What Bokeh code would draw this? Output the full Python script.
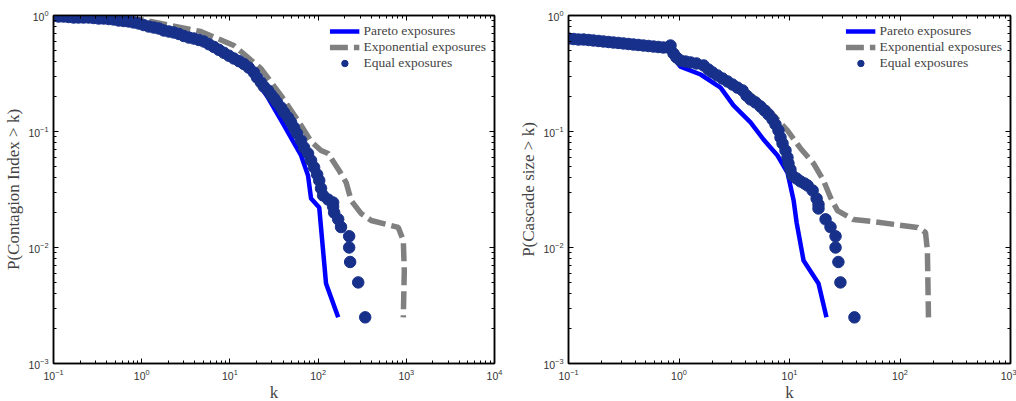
from bokeh.plotting import figure
from bokeh.models import (LogAxis, FixedTicker, Legend, LegendItem, Range1d,
                          CustomJSTickFormatter)
from bokeh.layouts import row
from bokeh.embed import file_html
from bokeh.resources import INLINE

# ---------------- Left panel: Contagion Index ----------------
left_pareto_k = [0.1, 0.203, 0.342, 0.974, 2.14, 4.68, 9.49, 13.3, 17.3, 27.0,
                 41.1, 64.1, 76.9, 83.2, 103, 123, 169]
left_pareto_p = [1.0, 0.98, 0.96, 0.836, 0.728, 0.609, 0.461, 0.394, 0.323, 0.196,
                 0.113, 0.0621, 0.0418, 0.0264, 0.0221, 0.0049, 0.0025]

left_expo_k = [0.1, 0.342, 0.974, 2.14, 4.68, 11.1, 22.5, 38.0, 59.3, 83.2, 108,
               130, 173, 208, 237, 308, 400, 811, 925, 949, 925]
left_expo_p = [1.0, 0.98, 0.924, 0.82, 0.728, 0.551, 0.349, 0.204, 0.124, 0.082,
               0.0686, 0.0646, 0.0461, 0.0363, 0.0254, 0.0196, 0.0171, 0.0149,
               0.0115, 0.00634, 0.0025]

left_equal_k = [0.1, 0.114, 0.130, 0.148, 0.169, 0.192, 0.219, 0.250, 0.285, 0.325,
                0.370, 0.422, 0.481, 0.548, 0.625, 0.712, 0.811, 0.925, 1.05, 1.20,
                1.37, 1.56, 1.78, 2.03, 2.31, 2.64, 3.00, 3.42, 3.90, 4.45, 5.07,
                5.78, 6.58, 7.51, 8.55, 9.75, 11.1, 12.7, 14.4, 16.4, 18.7, 20.3,
                22.5, 24.3, 27.0, 29.2, 31.6, 34.2, 38.0, 41.1, 45.6, 49.3, 53.4,
                57.7, 64.1, 69.3, 76.9, 83.2, 90.1, 97.5, 103, 108, 114, 130, 148,
                148, 152, 169, 182, 225, 225, 231, 285, 342]
left_equal_p = [0.990, 0.980, 0.980, 0.971, 0.961, 0.961, 0.961, 0.961, 0.952,
                0.942, 0.942, 0.933, 0.924, 0.906, 0.897, 0.888, 0.871, 0.853,
                0.828, 0.804, 0.788, 0.773, 0.743, 0.728, 0.714, 0.693, 0.666,
                0.646, 0.633, 0.615, 0.597, 0.565, 0.536, 0.506, 0.477, 0.450,
                0.426, 0.404, 0.382, 0.355, 0.323, 0.292, 0.265, 0.244, 0.226,
                0.208, 0.193, 0.178, 0.161, 0.146, 0.132, 0.120, 0.108, 0.0961,
                0.0836, 0.0728, 0.0646, 0.0562, 0.049, 0.0426, 0.0378, 0.0323,
                0.0281, 0.0259, 0.0244, 0.0225, 0.02, 0.0175, 0.015, 0.0125,
                0.01, 0.0075, 0.005, 0.0025]

# ---------------- Right panel: Cascade size ----------------
right_pareto_k = [0.1, 0.296, 0.552, 0.804, 0.873, 1.03, 1.57, 2.38, 3.11, 4.44,
                  5.82, 7.79, 9.59, 10.9, 11.6, 13.4, 18.3, 21.6]
right_pareto_p = [0.633, 0.562, 0.52, 0.499, 0.443, 0.363, 0.31, 0.239, 0.168, 0.12,
                  0.0853, 0.0621, 0.0443, 0.0254, 0.0164, 0.00773, 0.0049, 0.0025]

right_expo_k = [0.1, 0.296, 0.681, 0.873, 1.03, 1.57, 2.38, 3.61, 6.32, 9.59, 12.6,
                16.5, 20.3, 23.5, 27.2, 37.9, 54.1, 144, 170, 177, 181]
right_expo_p = [0.646, 0.597, 0.551, 0.499, 0.426, 0.378, 0.304, 0.244, 0.158,
                0.102, 0.0714, 0.053, 0.0378, 0.027, 0.0208, 0.0174, 0.0168,
                0.0149, 0.0135, 0.00942, 0.0025]

right_equal_k = [0.1, 0.111, 0.123, 0.137, 0.152, 0.168, 0.187, 0.207, 0.230, 0.255,
                 0.283, 0.314, 0.349, 0.387, 0.429, 0.476, 0.529, 0.587, 0.651,
                 0.722, 0.802, 0.838, 0.892, 0.949, 1.03, 1.145, 1.27, 1.44, 1.67,
                 1.85, 2.01, 2.23, 2.48, 2.75, 3.05, 3.38, 3.76, 4.08, 4.44, 4.92,
                 5.47, 5.94, 6.46, 7.02, 7.47, 7.95, 8.29, 8.65, 9.2, 9.59, 9.79,
                 10.2, 10.6, 11.6, 12.6, 13.7, 14.6, 16.2, 17.6, 18.3, 18.3, 21.2,
                 23.5, 26.1, 26.1, 27.7, 28.9, 38.7]
right_equal_p = [0.633, 0.627, 0.621, 0.621, 0.615, 0.609, 0.603, 0.597, 0.591,
                 0.585, 0.580, 0.574, 0.568, 0.562, 0.557, 0.551, 0.546, 0.540,
                 0.535, 0.530, 0.530, 0.551, 0.470, 0.435, 0.409, 0.401, 0.394,
                 0.386, 0.371, 0.342, 0.323, 0.304, 0.286, 0.270, 0.254, 0.239,
                 0.226, 0.204, 0.189, 0.178, 0.164, 0.152, 0.140, 0.127, 0.115,
                 0.102, 0.0888, 0.0788, 0.0686, 0.0597, 0.053, 0.047, 0.0418,
                 0.0393, 0.0371, 0.0356, 0.0342, 0.031, 0.0264, 0.0235, 0.0217,
                 0.0175, 0.015, 0.0125, 0.01, 0.0075, 0.005, 0.0025]

legend_labels = ["Pareto exposures", "Exponential exposures", "Equal exposures"]

BLUE = "#0000FF"
GRAY = "#808080"
NAVY = "#17308A"


def ticker_for(e0, e1):
    return FixedTicker(ticks=[10.0 ** e for e in range(e0, e1 + 1)],
                       minor_ticks=[m * 10.0 ** e for e in range(e0, e1)
                                    for m in range(2, 10)])


def style_axis(ax):
    ax.major_tick_in = 5
    ax.major_tick_out = 0
    ax.minor_tick_in = 3
    ax.minor_tick_out = 0
    ax.axis_line_width = 1.5
    ax.major_tick_line_width = 1
    ax.minor_tick_line_width = 1
    ax.major_label_text_font = "Liberation Sans"
    ax.major_label_text_font_size = "10.5px"
    ax.major_label_text_color = "#333333"
    ax.axis_label_text_font = "Liberation Serif"
    ax.axis_label_text_font_size = "17px"
    ax.axis_label_text_font_style = "normal"


def make_panel(xe0, xe1, ylabel, frame_w, bl, br, data):
    xt = ticker_for(xe0, xe1)
    yt = ticker_for(-3, 0)
    p = figure(x_axis_type="log", y_axis_type="log",
               x_range=Range1d(10.0 ** xe0, 10.0 ** xe1),
               y_range=Range1d(1e-3, 1.0),
               frame_width=frame_w, frame_height=348,
               min_border_left=bl, min_border_right=br,
               min_border_top=15, min_border_bottom=38,
               output_backend="svg", toolbar_location=None)
    p.grid.visible = False
    p.outline_line_color = "black"
    p.outline_line_width = 1.5
    p.background_fill_color = "white"
    p.border_fill_color = "white"

    p.xaxis.ticker = xt
    p.yaxis.ticker = yt
    for ax in p.xaxis + p.yaxis:
        style_axis(ax)
    p.xaxis.axis_label = "k"
    p.yaxis.axis_label = ylabel
    p.xaxis.major_label_standoff = 5
    p.xaxis.axis_label_standoff = 0
    p.yaxis.major_label_standoff = 5
    p.yaxis.axis_label_standoff = 2

    blank = CustomJSTickFormatter(code="return ''")
    top = LogAxis(ticker=xt, formatter=blank, major_label_standoff=0)
    right = LogAxis(ticker=yt, formatter=blank, major_label_standoff=0)
    style_axis(top)
    style_axis(right)
    p.add_layout(top, "above")
    p.add_layout(right, "right")

    (pk, pp), (ek, ep), (qk, qp) = data
    r1 = p.line(pk, pp, line_color=BLUE, line_width=4.5)
    r2 = p.line(ek, ep, line_color=GRAY, line_width=5.5, line_dash="18 6")
    r3 = p.scatter(qk, qp, marker="circle", size=11.5, fill_color=NAVY,
                   line_color=NAVY)

    legend = Legend(items=[LegendItem(label=legend_labels[0], renderers=[r1]),
                           LegendItem(label=legend_labels[1], renderers=[r2]),
                           LegendItem(label=legend_labels[2], renderers=[r3])],
                    location="top_right")
    legend.margin = 4
    legend.padding = 4
    legend.spacing = 0
    legend.glyph_width = 30
    legend.glyph_height = 16
    legend.label_height = 16
    legend.label_standoff = 4
    legend.label_text_font = "Liberation Serif"
    legend.label_text_font_size = "13.5px"
    legend.background_fill_alpha = 0
    legend.border_line_alpha = 0
    p.add_layout(legend)
    return p


p1 = make_panel(-1, 4, "P(Contagion Index > k)", 441, 53, 14,
                [(left_pareto_k, left_pareto_p), (left_expo_k, left_expo_p),
                 (left_equal_k, left_equal_p)])
p2 = make_panel(-1, 3, "P(Cascade size > k)", 442, 60, 6,
                [(right_pareto_k, right_pareto_p), (right_expo_k, right_expo_p),
                 (right_equal_k, right_equal_p)])

layout = row(p1, p2)
open("out.html", "w").write(file_html(layout, INLINE))
